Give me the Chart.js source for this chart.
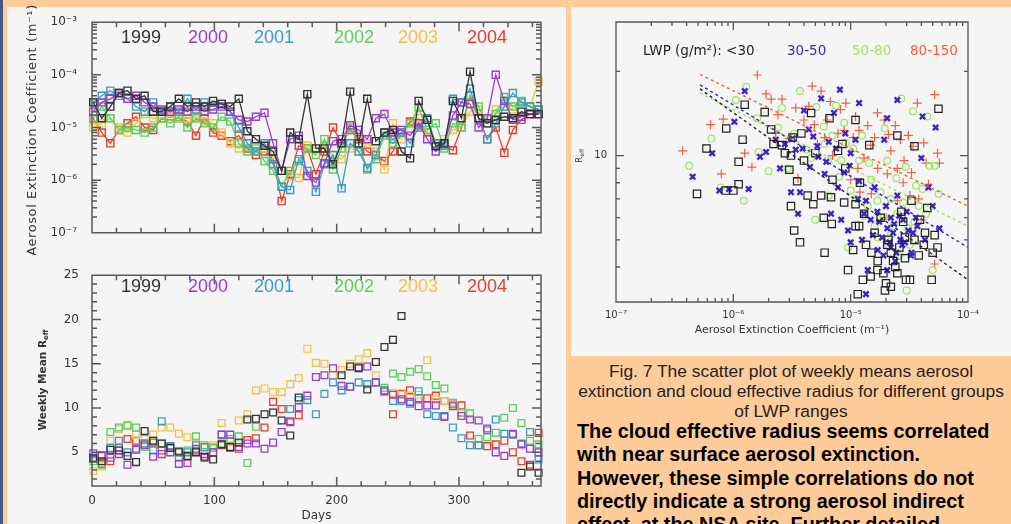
<!DOCTYPE html>
<html>
<head>
<meta charset="utf-8">
<script src="https://cdn.jsdelivr.net/npm/chart.js@4.4.0/dist/chart.umd.min.js"></script>
<style>
  html, body { margin: 0; padding: 0; }
  body { width: 1011px; height: 524px; overflow: hidden; background: #ffcc99; position: relative;
         font-family: "Liberation Sans", Arial, sans-serif; }
  .strip { position: absolute; left: 0; top: 0; width: 3px; height: 524px; background: #46568a; }
  .panel { position: absolute; background: #f5f5f5; }
  #leftPanel { left: 7px; top: 7px; width: 559px; height: 517px; }
  #rightPanel { left: 571px; top: 7px; width: 440px; height: 349px; }
  canvas { position: absolute; }
  #chartA { left: 0; top: 0; }
  #chartB { left: 0; top: 255px; }
  #chartC { left: 571px; top: 7px; }
  .caption { position: absolute; left: 571px; width: 440px; top: 361px; text-align: center;
             font-size: 17.4px; line-height: 20px; color: #222; }
  .body { position: absolute; left: 577px; top: 420px; font-size: 19.8px; font-weight: bold;
          line-height: 23.3px; color: #000; white-space: nowrap; }
</style>
</head>
<body>
<div class="strip"></div>
<div class="panel" id="leftPanel"></div>
<div class="panel" id="rightPanel"></div>
<canvas id="chartA" width="566" height="255"></canvas>
<canvas id="chartB" width="566" height="269"></canvas>
<canvas id="chartC" width="440" height="349"></canvas>
<div class="caption">Fig. 7 The scatter plot of weekly means aerosol<br>extinction and cloud effective radius for different groups<br>of LWP ranges</div>
<div class="body">The cloud effective radius seems correlated<br>with near surface aerosol extinction.<br>However, these simple correlations do not<br>directly indicate a strong aerosol indirect<br>effect &nbsp;at the NSA site. Further detailed</div>
<script>
// ─── Données : moyennes hebdomadaires ─────────────────────
const days = [1, 8, 15, 22, 29, 36, 43, 50, 57, 64,
              71, 78, 85, 92, 99, 106, 113, 120, 127, 134,
              141, 148, 155, 162, 169, 176, 183, 190, 197, 204,
              211, 218, 225, 232, 239, 246, 253, 260, 267, 274,
              281, 288, 295, 302, 309, 316, 323, 330, 337, 344,
              351, 358, 365];
const years = ['1999', '2000', '2001', '2002', '2003', '2004'];

// aerosol extinction (m-1)
const ext1999 = [3e-5, 1.5e-5, 2.5e-5, 4.5e-5, 5e-5, 3.5e-5, 4e-5, 2e-5, 2e-5, 2.5e-5,
                 3.5e-5, 2.5e-5, 3e-5, 2.5e-5, 3.2e-5, 2.8e-5, 2.5e-5, 3.5e-5, 8.5e-6, 6e-6,
                 4.5e-6, 3.5e-6, 1.5e-6, 8e-6, 6e-6, 4.3e-5, 4e-6, 4e-6, 2e-6, 5e-6,
                 4.8e-5, 5e-6, 3.5e-5, 5.5e-6, 8e-6, 9e-6, 3.5e-6, 2.6e-6, 3.2e-5, 1.4e-5,
                 4.4e-6, 5e-6, 3.2e-5, 1.5e-5, 1.15e-4, 1.5e-5, 1.2e-5, 1.4e-5, 1.6e-5, 1.5e-5,
                 2e-5, 1.8e-5, 1.8e-5];
const ext2000 = [2e-5, 3e-5, 3.5e-5, 4.5e-5, 3.5e-5, 4e-5, 3e-5, 2.5e-5, 2.2e-5, 2e-5,
                 2.2e-5, 2e-5, 2.5e-5, 2e-5, 2.2e-5, 2.5e-5, 2e-5, 1.4e-5, 1.3e-5, 1.6e-5,
                 1.9e-5, 5e-6, 1.5e-6, 6e-6, 7e-6, 1.2e-6, 9e-7, 2.1e-6, 5.5e-6, 6e-6,
                 1.1e-5, 9e-6, 6e-6, 1.5e-5, 1.8e-5, 8e-6, 9e-6, 7e-6, 1.2e-5, 6e-6,
                 3.5e-6, 5e-6, 1.7e-5, 3e-5, 2.8e-5, 1e-5, 1.5e-5, 1e-4, 3.2e-5, 1.4e-5,
                 1.6e-5, 1.8e-5, 1.8e-5];
const ext2001 = [3e-5, 4e-5, 5e-5, 4e-5, 3.5e-5, 2.5e-5, 2e-5, 3e-5, 2e-5, 2.5e-5,
                 2e-5, 3.5e-5, 2.2e-5, 3e-5, 2.5e-5, 2.8e-5, 2e-5, 1e-5, 5e-6, 3.5e-6,
                 5e-6, 2e-6, 7.5e-7, 6.5e-7, 2.5e-6, 1.5e-6, 6e-7, 2e-6, 3e-6, 7e-7,
                 5e-6, 3.5e-6, 1.7e-6, 3e-6, 8e-6, 6e-6, 8e-6, 5e-6, 1e-5, 1.5e-5,
                 5e-6, 4.5e-6, 3.5e-5, 3e-5, 5.5e-5, 1.5e-5, 6e-6, 1.2e-5, 2.5e-5, 4.5e-5,
                 3e-5, 2.5e-5, 2.2e-5];
const ext2002 = [1.5e-5, 2.5e-5, 1.5e-5, 9e-6, 1e-5, 9e-6, 8e-6, 1e-5, 1.5e-5, 1.2e-5,
                 1.6e-5, 1e-5, 1.5e-5, 1.2e-5, 1e-5, 1.6e-5, 1.3e-5, 5e-6, 3.5e-6, 4e-6,
                 2.3e-6, 1.5e-6, 7.5e-7, 1.5e-6, 2.3e-6, 4e-6, 3e-6, 6e-6, 1.6e-6, 4e-6,
                 1e-5, 5e-6, 1.6e-6, 2.5e-6, 7e-6, 5e-6, 8e-6, 1.2e-5, 2.4e-5, 9e-6,
                 1.2e-5, 4e-6, 1.2e-5, 1e-5, 4e-5, 2.5e-5, 1.2e-5, 1.8e-5, 3.8e-5, 2.5e-5,
                 3.2e-5, 2.5e-5, 2.2e-5];
const ext2003 = [1e-5, 1.2e-5, 1.5e-5, 1e-5, 8e-6, 1.2e-5, 1.8e-5, 1.5e-5, 1.5e-5, 1.6e-5,
                 1.5e-5, 1.5e-5, 1.6e-5, 1.3e-5, 1.2e-5, 8e-6, 5e-6, 4e-6, 5e-6, 3.5e-6,
                 4e-6, 3e-6, 1.5e-6, 1.2e-6, 1.1e-6, 4.5e-6, 4e-6, 4.5e-6, 3e-6, 2.5e-6,
                 4e-6, 3.5e-6, 5e-6, 3.5e-6, 1.6e-6, 1.2e-5, 6e-6, 1.2e-5, 1.5e-5, 8e-6,
                 5e-6, 6e-6, 9e-6, 1e-5, 2e-5, 2.2e-5, 1.5e-5, 2.2e-5, 2.5e-5, 2.2e-5,
                 3e-5, 2.5e-5, 7.5e-5];
const ext2004 = [1.5e-5, 8e-6, 5e-6, 9e-6, 1.2e-5, 1.6e-5, 1e-5, 9e-6, 1.5e-5, 1.6e-5,
                 1.5e-5, 1.3e-5, 7e-6, 1.5e-5, 8e-6, 7e-6, 5.5e-6, 7e-6, 4e-6, 3e-6,
                 3.5e-6, 2.5e-6, 4e-7, 1.3e-6, 4.5e-6, 4e-6, 1.3e-6, 3.5e-6, 1e-5, 5e-6,
                 9e-6, 6e-6, 3.5e-6, 3e-6, 2.3e-6, 3.5e-6, 8e-6, 1.3e-5, 1.1e-5, 8e-6,
                 5e-6, 4.5e-6, 3.7e-6, 1e-5, 4e-5, 1.5e-5, 6e-6, 1e-5, 3.3e-6, 9e-6,
                 1.4e-5, 1.8e-5, 1.8e-5];

// weekly mean effective radius
const reff1999 = [4.3, 4.0, 5.3, 5.2, 4.6, 3.9, 7.4, 6.3, 6.0, 5.5,
                  5.1, 4.6, 5.0, 4.5, 4.2, 5.9, 5.6, 6.1, 8.7, 8.8,
                  9.3, 9.5, 8.6, 6.9, 11.2, null, null, null, null, 13.7,
                  14.7, 14.5, 12.1, 15.2, 16.9, 17.7, 20.4, null, null, null,
                  null, null, null, null, null, null, null, null, null, null,
                  2.7, 3.4, 2.7];
const reff2000 = [4.9, 4.6, 4.4, 4.8, 3.6, 5.3, 5.8, 4.5, 4.8, 5.0,
                  3.7, 3.8, 5.4, 4.4, 5.0, 7.0, 7.0, 5.6, 6.0, 6.0,
                  5.4, 6.1, 7.3, 8.5, 10.1, 11.4, 13.5, 13.7, 14.5, 12.5,
                  12.4, 14.6, 14.7, 12.9, 11.9, 11.5, 11.0, 10.7, 10.2, 10.3,
                  10.3, 9.0, 10.2, 9.1, 8.7, 8.6, 7.7, 5.0, 4.6, 7.1,
                  5.9, 5.4, 5.0];
const reff2001 = [4.4, 4.7, 5.5, 6.3, 5.0, 5.4, 6.0, 5.2, 8.5, 5.7,
                  4.4, 5.0, 5.8, 5.6, 5.0, 7.0, null, null, null, null,
                  null, null, null, 9.9, 10.9, 10.9, 9.3, 11.6, 12.9, 12.0,
                  12.4, 12.9, 12.7, 12.9, 12.0, 10.8, 10.8, 10.5, 11.9, 9.3,
                  9.1, 9.1, 7.8, 6.6, 5.8, 5.8, 7.5, 8.7, 7.1, 7.0,
                  6.0, 7.3, 4.2];
const reff2002 = [4.0, 3.6, 7.3, 7.8, 8.0, 7.8, 5.6, 6.3, 6.0, 5.5,
                  5.0, 5.2, 6.8, 5.8, 5.5, 6.0, 6.5, 6.8, 3.8, 7.9,
                  null, null, null, null, null, null, null, null, null, null,
                  null, null, null, null, 12.3, 13.9, 13.5, 14.1, 14.4, 13.6,
                  12.6, 12.2, 10.6, 9.5, 9.4, 6.5, 6.7, 7.2, 8.9, 10.0,
                  8.3, 6.3, 5.9];
const reff2003 = [2.9, 3.4, 6.3, 7.6, 8.1, 7.0, 6.5, 7.0, 7.8, 7.8,
                  7.1, 6.7, 6.1, 5.5, 5.8, 8.3, 6.2, 8.6, 9.3, 12.0,
                  12.2, 11.8, 11.8, 12.7, 13.4, 16.7, 15.1, 15.0, 13.7, 14.3,
                  15.0, 15.5, 16.2, 13.7, 11.8, 11.7, 11.5, 11.4, 11.5, 15.4,
                  11.0, 10.8, 10.3, 9.4, null, null, null, null, null, null,
                  null, null, null];
const reff2004 = [4.3, 3.7, 4.0, 5.5, 6.5, 6.3, 6.0, 6.1, 5.2, 5.5,
                  5.0, 4.5, 5.2, 4.8, 5.5, 5.8, 5.5, 5.4, 6.4, 6.6,
                  7.8, 10.7, 9.9, 8.4, 9.2, null, null, null, null, null,
                  null, null, null, null, null, 9.3, 11.6, 12.0, 11.1, 11.1,
                  11.4, 10.8, 10.4, 10.3, 6.9, 5.8, 5.7, 5.9, 6.3, 5.0,
                  4.0, 3.6, 7.2];

// ─── Données : nuage de points par classe de LWP ──────────
const lwpLabels = ['LWP (g/m\u00b2): <30', '30-50', '50-80', '80-150'];
const aeroLt30 = [4.9e-7, 5.9e-7, 8.7e-7, 8.6e-7, 1.0e-6, 1.11e-6, 1.2e-6, 1.25e-6, 1.11e-6, 1.85e-6,
                  2.1e-6, 2.75e-6, 2.6e-6, 3.1e-6, 3.2e-6, 3.1e-6, 3.3e-6, 3.7e-6, 3.5e-6, 4.3e-6,
                  4.8e-6, 4.6e-6, 5.6e-6, 5.9e-6, 6.0e-6, 6.8e-6, 6.6e-6, 7.8e-6, 6.9e-6, 8.8e-6,
                  9.5e-6, 1.05e-5, 1.1e-5, 1.1e-5, 1.18e-5, 1.1e-5, 1.27e-5, 1.35e-5, 1.44e-5, 1.48e-5,
                  1.5e-5, 1.69e-5, 1.8e-5, 1.96e-5, 2.0e-5, 2.2e-5, 2.3e-5, 2.4e-5, 2.5e-5, 2.8e-5,
                  2.9e-5, 2.96e-5, 3.2e-5, 3.3e-5, 3.5e-5, 3.8e-5, 4.2e-5, 4.3e-5, 4.9e-5, 5e-5,
                  5.5e-5, 5.2e-5, 5.6e-5, 3.0e-6, 4.0e-6, 7.0e-6, 9.0e-6, 1.2e-5, 1.6e-5, 2.1e-5,
                  2.6e-5, 1.9e-5, 2.7e-5, 2.2e-6, 3.8e-6, 5.0e-6, 8.5e-6, 1.3e-5, 1.7e-5, 2.2e-5,
                  2.5e-5, 2.9e-5, 3.5e-5, 3.9e-5, 4.5e-5, 1.15e-5, 2.05e-5];
const reffLt30 = [7.3, 10.6, 12.5, 7.5, 7.5, 9.5, 11.4, 15.2, 7.9, 14.3,
                  12.4, 10.2, 10.9, 10.0, 11.6, 6.6, 5.4, 4.9, 8.1, 7.2,
                  6.7, 14.2, 7.2, 6.0, 4.5, 7.1, 13.6, 10.4, 5.7, 6.8,
                  3.9, 4.6, 5.6, 6.7, 5.6, 13.4, 3.6, 4.8, 10.9, 3.7,
                  4.5, 3.9, 6.0, 3.3, 3.5, 4.5, 4.2, 4.0, 11.8, 5.8,
                  5.1, 3.6, 3.6, 6.9, 10.8, 4.4, 4.8, 5.3, 3.6, 4.5,
                  4.7, 5.2, 14.7, 8.9, 9.6, 8.2, 9.0, 8.0, 5.3, 5.0,
                  4.7, 3.8, 6.3, 11.0, 12.0, 10.2, 11.0, 6.2, 4.2, 3.4,
                  3.8, 4.3, 5.0, 5.9, 6.5, 3.2, 4.8];
const aero3050 = [4.5e-7, 6.6e-7, 7.6e-7, 9.2e-7, 1.02e-6, 1.25e-6, 1.35e-6, 1.69e-6, 1.9e-6, 2.3e-6,
                  2.5e-6, 3.1e-6, 3.56e-6, 3.7e-6, 4e-6, 4.5e-6, 4.8e-6, 5.6e-6, 6e-6, 6.8e-6,
                  7.2e-6, 8.1e-6, 8.3e-6, 8.8e-6, 9.5e-6, 1e-5, 1.1e-5, 1.18e-5, 1.18e-5, 1.35e-5,
                  1.48e-5, 1.6e-5, 1.69e-5, 1.85e-5, 1.93e-5, 2.05e-5, 2.05e-5, 2.2e-5, 2.3e-5, 2.5e-5,
                  2.5e-5, 2.65e-5, 2.8e-5, 3.0e-5, 3.25e-5, 3.3e-5, 3.4e-5, 3.7e-5, 4.0e-5, 4.1e-5,
                  4.3e-5, 4.6e-5, 5.0e-5, 5.3e-5, 5.7e-5, 1.4e-5, 2.05e-5, 1.35e-5, 3.4e-6, 5.3e-6,
                  7.8e-6, 2.75e-6, 1.7e-5, 2.2e-5, 2.9e-5, 1.25e-5, 6.5e-6, 9e-6, 2.4e-5, 1.0e-5,
                  1.55e-5, 1.75e-5, 1.9e-5, 2.0e-5, 2.15e-5, 2.35e-5, 2.45e-5, 2.6e-5, 2.75e-5, 3.1e-5,
                  3.6e-5, 1.3e-5, 1.15e-5, 3.2e-6, 3.9e-6, 4.4e-6, 5.2e-6, 6.2e-6, 7.5e-6, 9.8e-6];
const reff3050 = [8.4, 10.2, 7.5, 7.6, 13.2, 17.0, 7.6, 9.9, 10.3, 11.4,
                  9.0, 7.4, 6.2, 7.4, 14.5, 9.1, 11.7, 16.0, 8.6, 6.2,
                  14.2, 17.2, 5.9, 8.7, 5.4, 10.2, 11.4, 15.4, 8.1, 6.9,
                  5.9, 7.7, 6.3, 5.1, 11.4, 13.6, 5.5, 4.7, 5.3, 15.8,
                  7.2, 5.0, 5.9, 6.3, 4.4, 4.5, 5.3, 5.6, 9.8, 13.8,
                  5.0, 7.7, 6.6, 12.6, 5.5, 3.9, 3.9, 3.2, 10.5, 9.9,
                  7.7, 11.0, 4.6, 6.0, 4.9, 5.0, 11.2, 12.0, 4.2, 4.9,
                  5.2, 5.8, 4.4, 6.6, 4.9, 5.7, 4.5, 6.1, 4.8, 5.4,
                  6.0, 6.2, 7.0, 11.5, 10.6, 12.4, 10.8, 9.5, 10.6, 9.2];
const aero5080 = [4.2e-7, 6.5e-7, 7.8e-7, 1.05e-6, 1.29e-6, 1.23e-6, 1.64e-6, 2.0e-6, 2.6e-6, 2.9e-6,
                  3.7e-6, 4.2e-6, 5e-6, 5.9e-6, 6.4e-6, 7.5e-6, 8.3e-6, 9.1e-6, 1e-5, 1.18e-5,
                  1.44e-5, 1.6e-5, 1.69e-5, 1.95e-5, 2.05e-5, 2.2e-5, 2.45e-5, 2.7e-5, 2.96e-5, 3.0e-5,
                  3.2e-5, 3.4e-5, 3.8e-5, 4.1e-5, 4.5e-5, 4.7e-5, 5e-5, 5.2e-5, 5.6e-5, 1.1e-5,
                  1.8e-5, 1.3e-5, 2.5e-5, 8.8e-6, 5.1e-6, 3.3e-6, 6.0e-6, 1.5e-5, 2.2e-5, 3.5e-5,
                  9.5e-6, 1.4e-5, 1.7e-5, 1.9e-5, 2.1e-5, 2.3e-5, 2.6e-5, 2.8e-5, 3.1e-5, 3.6e-5,
                  4.4e-5, 7.0e-6, 8.0e-6, 1.05e-5, 1.25e-5, 4.6e-6, 2.4e-6, 1.6e-6, 6.5e-6];
const reff5080 = [9.2, 11.5, 7.7, 15.8, 17.6, 6.9, 10.3, 8.8, 14.8, 9.0,
                  17.0, 10.5, 5.9, 12.7, 9.6, 15.1, 9.6, 11.1, 7.5, 9.6,
                  9.4, 5.6, 6.9, 12.5, 9.6, 5.2, 8.3, 16.0, 9.1, 3.3,
                  4.8, 14.4, 6.6, 7.6, 13.8, 9.2, 3.9, 9.2, 7.3, 7.0,
                  7.4, 6.1, 6.2, 13.1, 14.9, 12.0, 11.0, 8.2, 7.0, 5.8,
                  4.7, 6.6, 5.1, 6.0, 4.8, 5.6, 4.4, 6.8, 5.5, 7.8,
                  6.2, 11.8, 8.4, 10.6, 11.8, 9.8, 12.6, 13.6, 7.2];
const aero80150 = [3.7e-7, 6.4e-7, 7.9e-7, 8.2e-7, 1.25e-6, 1.44e-6, 1.6e-6, 1.9e-6, 2.1e-6, 2.4e-6,
                   2.6e-6, 3.56e-6, 4e-6, 4.7e-6, 4.9e-6, 5.6e-6, 6.7e-6, 7.8e-6, 9.1e-6, 1e-5,
                   1.18e-5, 1.3e-5, 1.48e-5, 1.69e-5, 1.93e-5, 2.05e-5, 2.2e-5, 2.5e-5, 2.85e-5, 3.1e-5,
                   3.3e-5, 3.7e-5, 4e-5, 4.2e-5, 4.6e-5, 5.2e-5, 5.2e-5, 5.5e-5, 5.7e-5, 6e-6,
                   8.8e-6, 1.2e-5, 2.65e-5, 3.4e-5, 2e-5, 1.5e-5, 3.0e-6, 7.0e-6, 1.1e-5, 1.7e-5,
                   2.4e-5, 3.8e-5, 4.4e-6, 5.2e-6, 6.3e-6, 8.2e-6, 1.05e-5, 1.4e-5, 1.6e-5, 2.1e-5,
                   2.8e-5, 3.2e-5, 4.4e-5, 2.3e-6, 3.4e-6, 1.15e-5, 2.5e-5];
const reff80150 = [10.4, 12.9, 8.6, 13.5, 10.2, 9.1, 19.4, 16.6, 15.9, 14.0,
                   15.9, 8.3, 13.4, 17.7, 12.9, 17.0, 15.6, 12.0, 15.4, 8.2,
                   12.3, 9.8, 10.9, 14.2, 13.4, 8.6, 10.4, 6.9, 9.6, 11.8,
                   8.7, 15.4, 5.9, 11.1, 7.9, 16.5, 4.1, 10.2, 9.4, 11.6,
                   12.3, 7.4, 11.4, 10.8, 6.0, 7.3, 11.5, 10.0, 13.8, 9.0,
                   12.8, 7.0, 15.0, 11.0, 13.4, 14.6, 11.6, 12.8, 11.6, 11.9,
                   8.0, 7.2, 9.4, 12.0, 14.8, 9.0, 9.0];

// droites de regression (extremites)
const fitAero = [5.2e-7, 1e-4];
const fitLt30 = [17.3, 3.6];
const fit3050 = [17.9, 4.7];
const fit5080 = [16.7, 5.6];
const fit80150 = [19.5, 6.6];

// ─── Axes ────────────────────────────────────────────────
const dayTicks = [0, 100, 200, 300];
const extTicks = [1e-7, 1e-6, 1e-5, 1e-4, 1e-3];
const reffTicks = [5, 10, 15, 20, 25];
const scatXTicks = [1e-7, 1e-6, 1e-5, 1e-4];
const scatYTicks = [10];

const yearColors = ['#333333', '#9a3ccf', '#3a9cc4', '#5ccc5c', '#f2c24c', '#e0402c'];
const lwpColors = ['#222222', '#3f22cc', '#9fe460', '#f0603e'];
const FONT = "'DejaVu Sans', sans-serif";

const dayMinor = [];
for (let d = 20; d < 367; d += 20) if (d % 100) dayMinor.push(d);
const logMinor = (lo, hi) => {
    const out = [];
    for (let e = lo; e < hi; e++) for (let k = 2; k <= 9; k++) out.push(k * Math.pow(10, e));
    return out;
};
const reffMinor = [];
for (let v = 2; v < 25; v++) if (v % 5) reffMinor.push(v);

const SUP = { '-': '\u207b', '0': '\u2070', '1': '\u00b9', '2': '\u00b2', '3': '\u00b3',
              '4': '\u2074', '5': '\u2075', '6': '\u2076', '7': '\u2077', '8': '\u2078', '9': '\u2079' };
const powLabel = v => '10' + String(Math.round(Math.log10(v))).split('').map(c => SUP[c]).join('');

// texte vertical avec indice eventuel
function verticalText(ctx, parts, cx, cy, spacing) {
    ctx.save();
    ctx.translate(cx, cy);
    ctx.rotate(-Math.PI / 2);
    ctx.letterSpacing = spacing || '0px';
    let total = 0;
    parts.forEach(p => { ctx.font = p.font; total += ctx.measureText(p.text).width; });
    let x = -total / 2;
    ctx.textAlign = 'left';
    ctx.textBaseline = 'middle';
    parts.forEach(p => {
        ctx.font = p.font;
        ctx.fillText(p.text, x, p.dy || 0);
        x += ctx.measureText(p.text).width;
    });
    ctx.restore();
}

// cadre IDL : axes sur les 4 cotes, graduations vers l'interieur
function framePlugin(opts) {
    return {
        id: 'frame',
        afterDatasetsDraw(chart) {
            const { ctx, chartArea: a } = chart;
            const sx = chart.scales.x, sy = chart.scales.y;
            ctx.save();
            ctx.strokeStyle = opts.color;
            ctx.lineWidth = opts.width;
            ctx.beginPath();
            ctx.rect(a.left, a.top, a.right - a.left, a.bottom - a.top);
            const vt = (vals, len) => vals.forEach(v => {
                const p = sx.getPixelForValue(v);
                ctx.moveTo(p, a.bottom); ctx.lineTo(p, a.bottom - len);
                ctx.moveTo(p, a.top); ctx.lineTo(p, a.top + len);
            });
            const ht = (vals, len) => vals.forEach(v => {
                const p = sy.getPixelForValue(v);
                ctx.moveTo(a.left, p); ctx.lineTo(a.left + len, p);
                ctx.moveTo(a.right, p); ctx.lineTo(a.right - len, p);
            });
            vt(opts.xMajor, opts.major); vt(opts.xMinor, opts.minor);
            ht(opts.yMajor, opts.major); ht(opts.yMinor, opts.minor);
            ctx.stroke();
            if (opts.extra) opts.extra(ctx, chart);
            ctx.restore();
        }
    };
}

function drawYears(ctx, y) {
    const xs = [121, 188, 254, 334, 398, 467];
    ctx.font = "18px 'Liberation Sans', sans-serif";
    ctx.textBaseline = 'middle';
    ctx.textAlign = 'left';
    years.forEach((yr, i) => { ctx.fillStyle = yearColors[i]; ctx.fillText(yr, xs[i], y); });
}

const noGrid = { display: false, drawTicks: false };
const tickFont = { family: FONT, size: 12 };
const baseOpts = {
    responsive: false,
    animation: false,
    events: [],
    plugins: { legend: { display: false }, tooltip: { enabled: false } }
};

// ─── Graphique 1 : extinction ────────────────────────────
const extSeries = [ext1999, ext2000, ext2001, ext2002, ext2003, ext2004];
new Chart(document.getElementById('chartA'), {
    type: 'line',
    data: {
        datasets: extSeries.map((s, i) => ({
            label: years[i],
            data: days.map((d, j) => ({ x: d, y: s[j] })),
            borderColor: yearColors[i],
            backgroundColor: 'rgba(0,0,0,0)',
            borderWidth: 1.3,
            pointStyle: 'rect',
            pointRadius: 5,
            pointBorderWidth: 1.4,
            pointBackgroundColor: 'rgba(0,0,0,0)',
            tension: 0,
            clip: false
        }))
    },
    options: {
        ...baseOpts,
        layout: { padding: { top: 17, right: 25, bottom: 14, left: 0 } },
        scales: {
            x: { type: 'linear', min: 0, max: 367, display: false },
            y: {
                type: 'logarithmic', min: 1e-7, max: 1e-3,
                afterFit(s) { s.width = 92; },
                afterBuildTicks(s) { s.ticks = extTicks.map(v => ({ value: v })); },
                grid: noGrid, border: { display: false },
                ticks: { callback: v => powLabel(v), font: tickFont, color: '#333', padding: 15 }
            }
        }
    },
    plugins: [framePlugin({
        color: '#5a5a5a', width: 1.5, major: 9, minor: 5,
        xMajor: dayTicks, xMinor: dayMinor, yMajor: extTicks, yMinor: logMinor(-7, -3),
        extra(ctx) {
            drawYears(ctx, 38);
            ctx.fillStyle = '#333';
            verticalText(ctx, [{ text: 'Aerosol Extinction Coefficient (m\u207b\u00b9)', font: `13px ${FONT}` }],
                         33, 130, '0.6px');
        }
    })]
});

// ─── Graphique 2 : rayon effectif ────────────────────────
const reffSeries = [reff1999, reff2000, reff2001, reff2002, reff2003, reff2004];
new Chart(document.getElementById('chartB'), {
    type: 'scatter',
    data: {
        datasets: reffSeries.map((s, i) => ({
            label: years[i],
            data: days.map((d, j) => ({ x: d, y: s[j] })),
            borderColor: yearColors[i],
            pointStyle: 'rect',
            pointRadius: 4.8,
            pointBorderWidth: 1.3,
            pointBackgroundColor: 'rgba(0,0,0,0)',
            clip: false
        }))
    },
    options: {
        ...baseOpts,
        layout: { padding: { top: 16, right: 25, bottom: 0, left: 0 } },
        scales: {
            x: {
                type: 'linear', min: 0, max: 367,
                afterFit(s) { s.height = 38; },
                afterBuildTicks(s) { s.ticks = dayTicks.map(v => ({ value: v })); },
                grid: noGrid, border: { display: false },
                ticks: { font: { family: FONT, size: 12 }, color: '#333', padding: 8, maxRotation: 0, autoSkip: false },
                title: { display: true, text: 'Days', font: { family: FONT, size: 12 }, color: '#333', padding: { top: 0, bottom: 1 } }
            },
            y: {
                type: 'linear', min: 1.2, max: 25,
                afterFit(s) { s.width = 92; },
                afterBuildTicks(s) { s.ticks = reffTicks.map(v => ({ value: v })); },
                grid: noGrid, border: { display: false },
                ticks: { font: tickFont, color: '#333', padding: 13 }
            }
        }
    },
    plugins: [framePlugin({
        color: '#5a5a5a', width: 1.5, major: 9, minor: 5,
        xMajor: dayTicks, xMinor: dayMinor, yMajor: reffTicks, yMinor: reffMinor,
        extra(ctx) {
            drawYears(ctx, 32);
            ctx.fillStyle = '#333';
            verticalText(ctx, [
                { text: 'Weekly Mean R', font: `bold 10.5px ${FONT}` },
                { text: 'eff', font: `bold 7px ${FONT}`, dy: 3 }
            ], 43, 125);
        }
    })]
});

// ─── Graphique 3 : nuage de points ───────────────────────
const groups = [
    { x: aeroLt30, y: reffLt30, style: 'rect', r: 5.2, w: 1.2 },
    { x: aero3050, y: reff3050, style: 'crossRot', r: 3.8, w: 2.4 },
    { x: aero5080, y: reff5080, style: 'circle', r: 3.4, w: 1.2 },
    { x: aero80150, y: reff80150, style: 'cross', r: 4.5, w: 1.2 }
];
const fits = [fitLt30, fit3050, fit5080, fit80150];

new Chart(document.getElementById('chartC'), {
    type: 'scatter',
    data: {
        datasets: [
            ...fits.map((f, i) => ({
                label: 'fit ' + lwpLabels[i],
                data: fitAero.map((x, j) => ({ x, y: f[j] })),
                showLine: true,
                borderColor: lwpColors[i],
                borderWidth: 1.4,
                borderDash: [3, 3],
                pointRadius: 0
            })),
            ...groups.map((g, i) => ({
                label: lwpLabels[i],
                data: g.x.map((x, j) => ({ x, y: g.y[j] })),
                borderColor: lwpColors[i],
                backgroundColor: 'rgba(0,0,0,0)',
                pointStyle: g.style,
                pointRadius: g.r,
                pointBorderWidth: g.w,
                clip: false
            }))
        ]
    },
    options: {
        ...baseOpts,
        layout: { padding: { top: 14, right: 43, bottom: 0, left: 0 } },
        scales: {
            x: {
                type: 'logarithmic', min: 1e-7, max: 1e-4,
                afterFit(s) { s.height = 54; },
                afterBuildTicks(s) { s.ticks = scatXTicks.map(v => ({ value: v })); },
                grid: noGrid, border: { display: false },
                ticks: { callback: v => powLabel(v), font: { family: FONT, size: 10 }, color: '#333',
                         padding: 7, maxRotation: 0, autoSkip: false },
                title: { display: true, text: 'Aerosol Extinction Coefficient (m\u207b\u00b9)',
                         font: { family: FONT, size: 11 }, color: '#333', padding: { top: 0, bottom: 19 } }
            },
            y: {
                type: 'logarithmic', min: 3, max: 30,
                afterFit(s) { s.width = 45; },
                afterBuildTicks(s) { s.ticks = scatYTicks.map(v => ({ value: v })); },
                grid: noGrid, border: { display: false },
                ticks: { callback: v => String(v), font: { family: FONT, size: 10 }, color: '#333', padding: 9 }
            }
        }
    },
    plugins: [framePlugin({
        color: '#555', width: 1.3, major: 8, minor: 4,
        xMajor: scatXTicks, xMinor: logMinor(-7, -4), yMajor: scatYTicks, yMinor: [4, 5, 6, 7, 8, 9, 20],
        extra(ctx) {
            const xs = [72, 216, 281, 339];
            ctx.font = `13.5px ${FONT}`;
            ctx.textBaseline = 'middle';
            ctx.textAlign = 'left';
            lwpLabels.forEach((t, i) => { ctx.fillStyle = lwpColors[i]; ctx.fillText(t, xs[i], 44); });
            ctx.fillStyle = '#333';
            verticalText(ctx, [
                { text: 'R', font: `9px ${FONT}` },
                { text: 'eff', font: `6px ${FONT}`, dy: 2.5 }
            ], 9, 149);
        }
    })]
});
</script>
</body>
</html>
